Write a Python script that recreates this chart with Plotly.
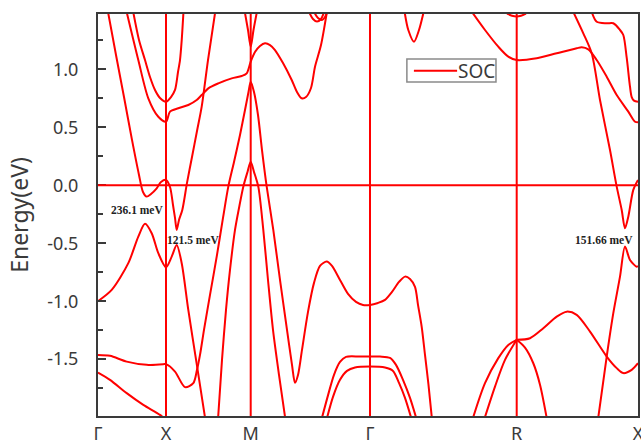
import plotly.graph_objects as go

# ---- k-path nodes (cumulative path length, arbitrary units) ----
node_k = [0.0, 0.68, 1.527, 2.72, 4.187, 5.40]
node_labels = ["Γ", "X", "M", "Γ", "R", "X"]

y_tick_vals = [-1.5, -1.0, -0.5, 0.0, 0.5, 1.0]
y_tick_text = ["-1.5", "-1.0", "-0.5", "0.0", "0.5", "1.0"]
y_minor_vals = [-1.75, -1.25, -0.75, -0.25, 0.25, 0.75, 1.25]

series_name = "SOC"

# ---- bands (k, E in eV) ----
cb1_k = [0.099, 0.18, 0.26, 0.34, 0.41, 0.45, 0.487, 0.53, 0.587, 0.63, 0.68, 0.72, 0.75, 0.77, 0.787,
         0.81, 0.843, 0.89, 0.94, 0.99, 1.037, 1.10, 1.173]
cb1_E = [1.50, 1.123, 0.761, 0.391, 0.089, -0.058, -0.098, -0.075, -0.026, 0.028, 0.046, -0.015, -0.170, -0.282, -0.385,
         -0.299, -0.213, 0.020, 0.244, 0.468, 0.678, 1.080, 1.50]

p1_k = [0.351, 0.41, 0.47, 0.52, 0.57, 0.62, 0.68, 0.73, 0.77, 0.80, 0.82, 0.837, 0.855]
p1_E = [1.50, 1.253, 1.080, 0.934, 0.822, 0.753, 0.721, 0.761, 0.822, 0.977, 1.080, 1.25, 1.50]

p2_k = [0.285, 0.403, 0.503, 0.603, 0.68, 0.72, 0.803, 0.903, 0.987, 1.037, 1.103, 1.203, 1.337, 1.437, 1.487,
        1.527, 1.57, 1.62, 1.67, 1.72, 1.77, 1.85, 1.937, 1.99, 2.037, 2.08, 2.13, 2.17, 2.23, 2.29]
p2_E = [1.50, 1.080, 0.750, 0.591, 0.548, 0.635, 0.664, 0.692, 0.735, 0.778, 0.836, 0.879, 0.922, 0.942, 0.965,
        1.066, 1.149, 1.201, 1.224, 1.209, 1.166, 1.054, 0.908, 0.804, 0.750, 0.761, 0.839, 1.022, 1.209, 1.50]

mv_k = [1.467, 1.50, 1.527, 1.555, 1.59]
mv_E = [1.50, 1.339, 1.195, 1.339, 1.50]

vb1_k = [0.0, 0.12, 0.287, 0.487, 0.653, 0.68, 0.77, 0.87, 0.953, 0.99, 1.02, 1.06, 1.12, 1.19, 1.25, 1.303,
         1.36, 1.42, 1.47, 1.505, 1.527, 1.56, 1.60, 1.64, 1.687, 1.753, 1.82, 1.89, 1.94, 1.97, 2.00, 2.04,
         2.10, 2.16, 2.22, 2.287, 2.34, 2.42, 2.50, 2.58, 2.65, 2.72, 2.80, 2.87, 2.94, 3.01, 3.07, 3.12, 3.17,
         3.20, 3.237, 3.27, 3.305, 3.34]
vb1_E = [-1.463, -1.471, -1.521, -1.549, -1.543, -1.543, -1.607, -1.741, -1.707, -1.592, -1.463, -1.247, -0.946,
         -0.601, -0.282, -0.012, 0.201, 0.434, 0.649, 0.804, 0.893, 0.804, 0.606, 0.304, -0.012, -0.385, -0.817,
         -1.247, -1.549, -1.704, -1.636, -1.420, -1.092, -0.842, -0.696, -0.658, -0.696, -0.817, -0.937, -1.006,
         -1.032, -1.032, -1.015, -0.989, -0.920, -0.834, -0.788, -0.808, -0.877, -1.032, -1.221, -1.463, -1.721,
         -2.02]

mlow_k = [1.20, 1.24, 1.28, 1.32, 1.37, 1.41, 1.453, 1.495, 1.527, 1.56, 1.603, 1.653, 1.70, 1.75, 1.81, 1.874]
mlow_E = [-2.02, -1.506, -1.075, -0.730, -0.385, -0.196, -0.012, 0.115, 0.203, 0.115, -0.012, -0.385, -0.817,
          -1.247, -1.635, -2.02]

vb2_k = [0.0, 0.137, 0.303, 0.403, 0.47, 0.537, 0.603, 0.68, 0.737, 0.787, 0.837, 0.903, 0.987, 1.075]
vb2_E = [-1.0, -0.903, -0.672, -0.443, -0.333, -0.414, -0.586, -0.707, -0.615, -0.515, -0.672, -1.075, -1.540, -2.03]

vb3_k = [0.0, 0.12, 0.287, 0.453, 0.62, 0.66]
vb3_E = [-1.615, -1.678, -1.793, -1.894, -1.980, -2.01]

g1_k = [2.232, 2.30, 2.36, 2.42, 2.48, 2.62, 2.82, 2.92, 2.98, 3.05, 3.12, 3.19]
g1_E = [-2.03, -1.812, -1.635, -1.524, -1.480, -1.477, -1.477, -1.489, -1.549, -1.678, -1.834, -2.03]

g2_k = [2.283, 2.35, 2.42, 2.49, 2.57, 2.72, 2.87, 2.95, 3.01, 3.07, 3.14]
g2_E = [-2.03, -1.825, -1.678, -1.601, -1.572, -1.564, -1.572, -1.601, -1.704, -1.834, -2.03]

dip1_k = [3.065, 3.103, 3.16, 3.21, 3.258]
dip1_E = [1.50, 1.339, 1.238, 1.339, 1.50]

dip2_k = [2.107, 2.15, 2.19, 2.23, 2.263]
dip2_E = [1.50, 1.434, 1.412, 1.434, 1.50]

dip3_k = [2.157, 2.20, 2.24, 2.27, 2.293]
dip3_E = [1.50, 1.442, 1.425, 1.451, 1.50]

rc1_k = [3.735, 3.87, 4.003, 4.103, 4.187, 4.387, 4.587, 4.787, 4.837, 4.903, 4.987, 5.087, 5.187, 5.303, 5.37, 5.40]
rc1_E = [1.50, 1.339, 1.195, 1.109, 1.080, 1.095, 1.138, 1.181, 1.190, 1.172, 1.080, 0.936, 0.778, 0.635, 0.548, 0.543]

rc2_k = [4.75, 4.853, 4.937, 5.02, 5.12, 5.187, 5.237, 5.27, 5.303, 5.353, 5.40]
rc2_E = [1.50, 1.310, 1.138, 0.735, 0.304, -0.012, -0.213, -0.371, -0.271, -0.040, 0.046]

rc3_k = [4.935, 4.987, 5.087, 5.153, 5.22, 5.253, 5.287, 5.32, 5.337, 5.36, 5.40]
rc3_E = [1.50, 1.410, 1.397, 1.397, 1.339, 1.296, 1.10, 0.85, 0.761, 0.73, 0.721]

rtop_k = [4.09, 4.14, 4.187, 4.23, 4.28]
rtop_E = [1.48, 1.462, 1.456, 1.462, 1.48]

rv1_k = [3.745, 3.87, 4.003, 4.103, 4.187]
rv1_E = [-2.02, -1.707, -1.491, -1.377, -1.333]

rv2_k = [3.862, 3.97, 4.07, 4.187]
rv2_E = [-2.02, -1.736, -1.506, -1.333]

rv3_k = [4.187, 4.32, 4.453, 4.587, 4.687, 4.787, 4.92, 5.087, 5.187, 5.253, 5.337, 5.40]
rv3_E = [-1.333, -1.319, -1.233, -1.133, -1.090, -1.118, -1.262, -1.477, -1.577, -1.620, -1.592, -1.535]

rv4_k = [4.187, 4.27, 4.353, 4.42, 4.49]
rv4_E = [-1.333, -1.40, -1.535, -1.72, -2.02]

rv5_k = [5.0, 5.087, 5.153, 5.22, 5.27, 5.32, 5.387, 5.40]
rv5_E = [-2.02, -1.477, -1.103, -0.788, -0.529, -0.644, -0.702, -0.696]

# gap annotations
gap_text = ["236.1 meV", "121.5 meV", "151.66 meV"]
gap_k = [0.387, 0.953, 5.062]
gap_E = [-0.213, -0.472, -0.472]

bands = [
    (cb1_k, cb1_E), (p1_k, p1_E), (p2_k, p2_E), (mv_k, mv_E), (vb1_k, vb1_E),
    (mlow_k, mlow_E), (vb2_k, vb2_E), (vb3_k, vb3_E), (g1_k, g1_E), (g2_k, g2_E),
    (dip1_k, dip1_E), (dip2_k, dip2_E), (dip3_k, dip3_E), (rc1_k, rc1_E), (rc2_k, rc2_E),
    (rc3_k, rc3_E), (rtop_k, rtop_E), (rv1_k, rv1_E), (rv2_k, rv2_E), (rv3_k, rv3_E),
    (rv4_k, rv4_E), (rv5_k, rv5_E),
]

RED = "#ff0000"
AXC = "#3a3a3a"

fig = go.Figure()
for i, (k, e) in enumerate(bands):
    fig.add_trace(go.Scatter(
        x=k, y=e, mode="lines",
        line=dict(color=RED, width=2, shape="spline", smoothing=0.8),
        name=series_name, legendgroup=series_name, showlegend=False, hoverinfo="skip",
    ))

# high-symmetry vertical lines and Fermi level
for kv in node_k[1:-1]:
    fig.add_shape(type="line", xref="x", yref="paper", x0=kv, x1=kv, y0=0, y1=1,
                  line=dict(color=RED, width=2), layer="above")
fig.add_shape(type="line", xref="paper", yref="y", x0=0, x1=1, y0=0, y1=0,
              line=dict(color=RED, width=2), layer="above")

for t, k, e in zip(gap_text, gap_k, gap_E):
    fig.add_annotation(x=k, y=e, xref="x", yref="y", text="<b>%s</b>" % t, showarrow=False,
                       font=dict(family="Liberation Serif", size=11.5, color="#222222"))

# compact legend box (Origin-style): frame, line sample and label
fig.add_shape(type="rect", xref="paper", yref="paper", x0=0.572, x1=0.737, y0=0.831, y1=0.888,
              line=dict(color="#8a8a8a", width=1.5), fillcolor="white", layer="above")
fig.add_shape(type="line", xref="paper", yref="paper", x0=0.585, x1=0.665, y0=0.859, y1=0.859,
              line=dict(color=RED, width=2), layer="above")
fig.add_annotation(xref="paper", yref="paper", x=0.663, y=0.859, xanchor="left", yanchor="middle",
                   text=series_name, showarrow=False, font=dict(size=19, color=AXC))

fig.update_layout(
    width=641, height=442,
    margin=dict(l=98, r=3, t=14, b=26),
    paper_bgcolor="white", plot_bgcolor="white",
    font=dict(family="Noto Sans", color=AXC),
    showlegend=False,
    xaxis=dict(range=[node_k[0], node_k[-1]], tickmode="array", tickvals=node_k,
               ticktext=node_labels,
               ticks="", showgrid=False, zeroline=False, showline=True, linecolor=AXC, linewidth=2,
               mirror=True, tickfont=dict(size=18, color=AXC), automargin=False, ticklabelstandoff=0,
               ticklabeloverflow="allow"),
    yaxis=dict(range=[-1.99, 1.477], tickmode="array", tickvals=y_tick_vals, ticktext=y_tick_text,
               ticks="inside", ticklen=8, tickwidth=1.5, tickcolor=AXC,
               minor=dict(tickmode="array", tickvals=y_minor_vals, ticks="inside", ticklen=5,
                          tickwidth=1.5, tickcolor=AXC),
               showgrid=False, zeroline=False, showline=True, linecolor=AXC, linewidth=2, mirror=True,
               tickfont=dict(size=18, color=AXC), ticklabelstandoff=14, automargin=False,
               title=dict(text="Energy(eV)", font=dict(size=23, color=AXC), standoff=12)),
)

# remove the default page margin so the 641x442 figure fills the window exactly
fig.write_html("out.html",
               config={"displayModeBar": False},
               post_script="document.body.style.margin='0';document.body.style.overflow='hidden';")
